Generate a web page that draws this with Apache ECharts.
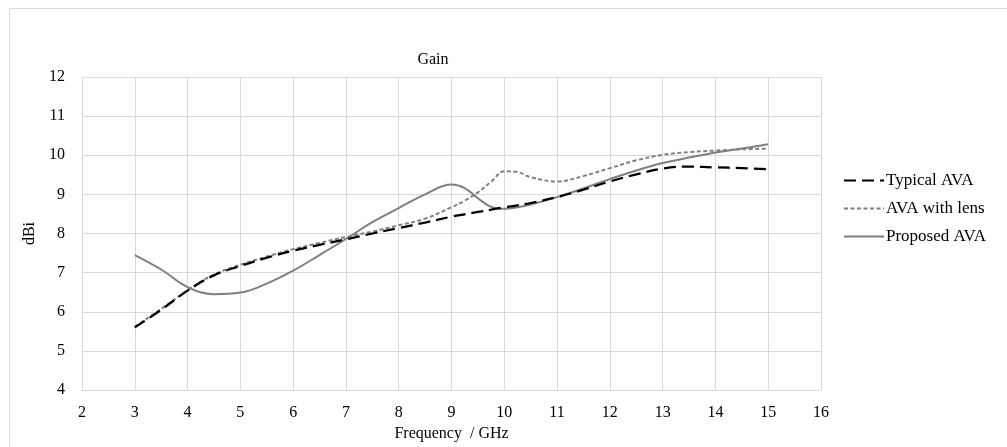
<!DOCTYPE html>
<html>
<head>
<meta charset="utf-8">
<script src="https://cdn.jsdelivr.net/npm/echarts@6/dist/echarts.min.js"></script>
<style>html,body{margin:0;padding:0;background:#fff}#c{width:1007px;height:447px}</style>
</head>
<body>
<div id="c"></div>
<script>
var freq = [3,3.5,4,4.5,5,5.5,6,6.5,7,7.5,8,8.5,9,9.25,9.5,9.75,10,10.25,10.5,11,11.5,12,12.5,13,13.5,14,14.5,15];
var typicalAVA = [5.60,6.05,6.54,6.93,7.17,7.38,7.56,7.71,7.85,8.00,8.14,8.28,8.43,8.49,8.55,8.61,8.67,8.72,8.78,8.93,9.12,9.33,9.51,9.66,9.71,9.69,9.67,9.64];
var lensAVA = [5.62,6.07,6.55,6.95,7.20,7.41,7.60,7.76,7.91,8.05,8.21,8.38,8.67,8.84,9.05,9.32,9.59,9.57,9.44,9.33,9.47,9.67,9.87,10.01,10.08,10.12,10.15,10.17];
var proposedAVA = [7.45,7.08,6.63,6.45,6.49,6.72,7.05,7.45,7.86,8.29,8.65,9.00,9.25,9.16,8.90,8.68,8.63,8.67,8.74,8.93,9.15,9.39,9.61,9.80,9.94,10.07,10.17,10.28];
var seriesNames = ['Typical AVA','AVA with lens','Proposed AVA'];
var xTicks = {min:2,max:16,interval:1};
var yTicks = {min:4,max:12,interval:1};

function pairs(ys){return freq.map(function(f,i){return [f,ys[i]];});}
var font = 'Liberation Serif';
var fs = 16;
var chart = echarts.init(document.getElementById('c'));
chart.setOption({
  animation:false,
  backgroundColor:'#fff',
  graphic:[{type:'rect',shape:{x:9.5,y:8.5,width:1200,height:600},style:{fill:'none',stroke:'#d9d9d9',lineWidth:1},silent:true}],
  title:{text:'Gain',left:428,top:47,textAlign:'center',textStyle:{fontFamily:font,fontSize:fs,fontWeight:'normal',color:'#000'}},
  legend:{
    orient:'vertical',left:838,top:167,itemWidth:40,itemHeight:12,itemGap:11,
    itemStyle:{opacity:0,borderWidth:0},
    textStyle:{fontFamily:font,fontSize:17,color:'#000',padding:[0,0,0,-3]},
    data:seriesNames
  },
  grid:{left:82,right:186,top:77,bottom:53},
  xAxis:{type:'value',min:xTicks.min,max:xTicks.max,interval:xTicks.interval,
    name:'Frequency  / GHz',nameLocation:'middle',nameGap:36,
    nameTextStyle:{fontFamily:font,fontSize:fs,color:'#000'},
    axisLine:{show:true,lineStyle:{color:'#d9d9d9'}},axisTick:{show:false},
    axisLabel:{fontFamily:font,fontSize:fs,color:'#000',margin:15},
    splitLine:{show:true,lineStyle:{color:'#d9d9d9',width:1}}},
  yAxis:{type:'value',min:yTicks.min,max:yTicks.max,interval:yTicks.interval,
    name:'dBi',nameLocation:'middle',nameGap:35,nameRotate:90,
    nameTextStyle:{fontFamily:font,fontSize:fs,color:'#000'},
    axisLine:{show:true,lineStyle:{color:'#d9d9d9'}},axisTick:{show:false},
    axisLabel:{fontFamily:font,fontSize:fs,color:'#000',margin:17},
    splitLine:{show:true,lineStyle:{color:'#d9d9d9',width:1}}},
  series:[
    {name:seriesNames[0],type:'line',data:pairs(typicalAVA),smooth:0.4,showSymbol:false,symbol:'none',
      lineStyle:{color:'#000',width:2.25,type:[12,6]},itemStyle:{color:'#000'},z:3},
    {name:seriesNames[1],type:'line',data:pairs(lensAVA),smooth:0.4,showSymbol:false,symbol:'none',
      lineStyle:{color:'#7f7f7f',width:2,type:[4,2.5]},itemStyle:{color:'#7f7f7f'},z:2},
    {name:seriesNames[2],type:'line',data:pairs(proposedAVA),smooth:0.4,showSymbol:false,symbol:'none',
      lineStyle:{color:'#7f7f7f',width:2},itemStyle:{color:'#7f7f7f'},z:1}
  ]
});
</script>
</body>
</html>
